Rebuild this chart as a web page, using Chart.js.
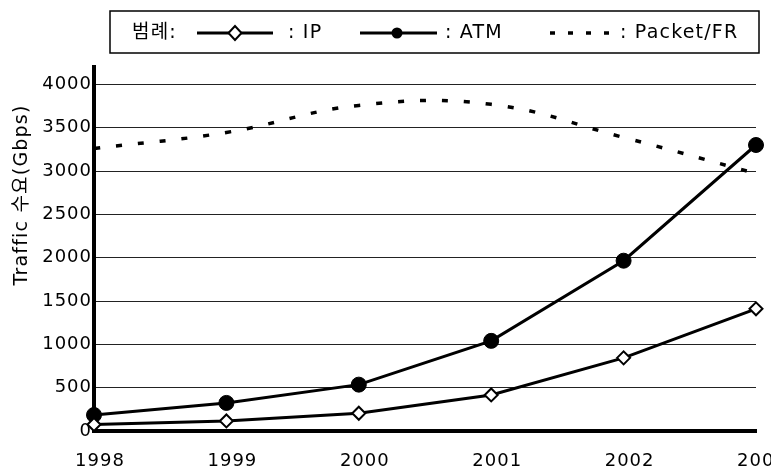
<!DOCTYPE html>
<html>
<head>
<meta charset="utf-8">
<script src="https://cdn.jsdelivr.net/npm/chart.js@4.4.1/dist/chart.umd.min.js"></script>
<style>
  html, body { margin: 0; padding: 0; background: #fff; }
  canvas { display: block; }
</style>
</head>
<body>
<canvas id="chart" width="771" height="469"></canvas>
<script>
// values (Gbps)
const years = ["1998", "1999", "2000", "2001", "2002", "2003"]
const ipTraffic = [75, 116, 205, 416, 844, 1410]
const atmTraffic = [185, 324, 535, 1040, 1965, 3300]
const packetFrTraffic = [3260, 3445, 3757, 3769, 3387, 2971]
const yTicks = [0, 500, 1000, 1500, 2000, 2500, 3000, 3500, 4000]
const yMax = 4200

const legendTitle = "범례:"
const seriesNames = ["IP", "ATM", "Packet/FR"]
const axisTitle = "Traffic 수요(Gbps)"

const FONT = '"DejaVu Sans", "Noto Sans CJK KR", sans-serif'

// legend box + rotated y title, drawn by hand like the scanned original
const decorPlugin = {
  id: "decor",
  beforeDraw(chart) {
    chart.ctx.letterSpacing = "1px"
  },
  afterDraw(chart) {
    const ctx = chart.ctx
    ctx.save()
    ctx.letterSpacing = "1.2px"
    ctx.strokeStyle = "#000"
    ctx.fillStyle = "#000"

    // box
    ctx.lineWidth = 1.5
    ctx.strokeRect(110, 11, 649, 42)

    const cy = 33
    ctx.font = `19px ${FONT}`
    ctx.textBaseline = "middle"
    ctx.textAlign = "left"
    ctx.fillText(legendTitle, 132, cy)

    // IP sample
    ctx.lineWidth = 3
    ctx.beginPath(); ctx.moveTo(197, cy); ctx.lineTo(273, cy); ctx.stroke()
    ctx.beginPath()
    ctx.moveTo(235 - 6.5, cy); ctx.lineTo(235, cy - 7); ctx.lineTo(235 + 6.5, cy); ctx.lineTo(235, cy + 7)
    ctx.closePath()
    ctx.fillStyle = "#fff"; ctx.fill()
    ctx.lineWidth = 2; ctx.stroke()
    ctx.fillStyle = "#000"
    ctx.fillText(": " + seriesNames[0], 288, cy)

    // ATM sample
    ctx.lineWidth = 3
    ctx.beginPath(); ctx.moveTo(360, cy); ctx.lineTo(437, cy); ctx.stroke()
    ctx.beginPath(); ctx.arc(397, cy, 5.5, 0, Math.PI * 2); ctx.fill()
    ctx.fillText(": " + seriesNames[1], 445, cy)

    // Packet/FR sample
    ctx.lineWidth = 3.5
    ctx.setLineDash([5, 13])
    ctx.beginPath(); ctx.moveTo(550, cy); ctx.lineTo(614, cy); ctx.stroke()
    ctx.setLineDash([])
    ctx.fillText(": " + seriesNames[2], 620, cy)

    // y axis title
    ctx.translate(22, 195)
    ctx.rotate(-Math.PI / 2)
    ctx.textAlign = "center"
    ctx.font = `19px ${FONT}`
    ctx.fillText(axisTitle, 0, 0)
    ctx.restore()
  }
}

const ctx = document.getElementById("chart").getContext("2d")
new Chart(ctx, {
  type: "line",
  data: {
    labels: years,
    datasets: [
      {
        label: seriesNames[0],
        data: ipTraffic,
        borderColor: "#000",
        borderWidth: 3,
        tension: 0,
        pointStyle: "rectRot",
        pointRadius: 6.5,
        pointBackgroundColor: "#fff",
        pointBorderColor: "#000",
        pointBorderWidth: 2,
        clip: false
      },
      {
        label: seriesNames[1],
        data: atmTraffic,
        borderColor: "#000",
        borderWidth: 3,
        tension: 0,
        pointStyle: "circle",
        pointRadius: 7.5,
        pointBackgroundColor: "#000",
        pointBorderColor: "#000",
        pointBorderWidth: 1,
        clip: false
      },
      {
        label: seriesNames[2],
        data: packetFrTraffic,
        borderColor: "#000",
        borderWidth: 3.5,
        borderDash: [6, 16],
        tension: 0.4,
        pointRadius: 0,
        clip: false
      }
    ]
  },
  options: {
    responsive: false,
    animation: false,
    layout: { padding: { top: 67, right: 15, left: 0, bottom: 0 } },
    plugins: {
      legend: { display: false },
      tooltip: { enabled: false }
    },
    scales: {
      x: {
        grid: { display: false },
        border: { display: true, color: "#000", width: 4 },
        ticks: {
          color: "#000",
          font: { family: FONT, size: 18 },
          padding: 12,
          labelOffset: 6,
          maxRotation: 0,
          autoSkip: false
        },
        afterFit: (scale) => {
          scale.height = 38
          scale.paddingLeft = 0
          scale.paddingRight = 0
        }
      },
      y: {
        min: 0,
        max: yMax,
        grid: { color: "#222", lineWidth: 1, drawTicks: false },
        border: { display: true, color: "#000", width: 4 },
        ticks: {
          color: "#000",
          font: { family: FONT, size: 18 },
          padding: 2,
          stepSize: 500,
          callback: (value) => String(value)
        },
        afterBuildTicks: (scale) => {
          scale.ticks = yTicks.map(v => ({ value: v }))
        },
        afterFit: (scale) => {
          scale.width = 94
          scale.paddingTop = 0
          scale.paddingBottom = 0
        }
      }
    }
  },
  plugins: [decorPlugin]
})
</script>
</body>
</html>
